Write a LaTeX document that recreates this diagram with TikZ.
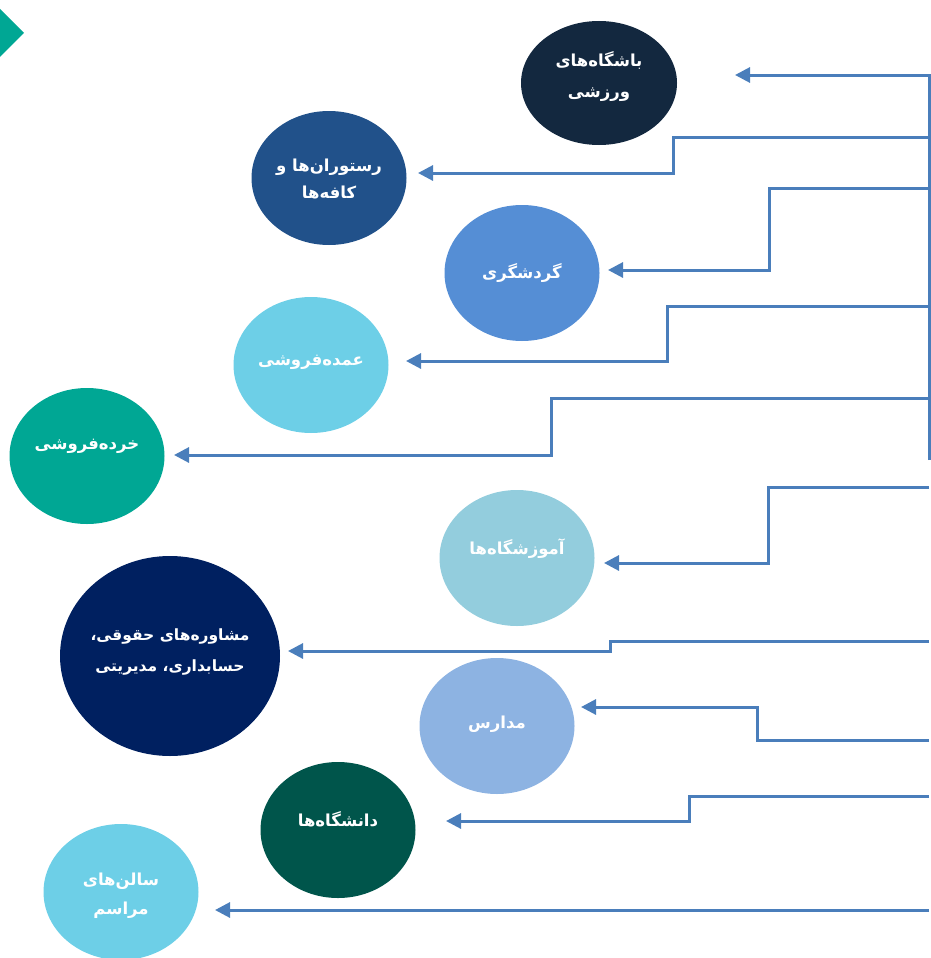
\documentclass[tikz,border=0pt]{standalone}
\usepackage{fontspec}
\usetikzlibrary{shapes.geometric,arrows.meta}
\TeXXeTstate=1
\newfontfamily\fa[Script=Arabic]{DejaVu Sans}
\definecolor{cA}{HTML}{13283F}
\definecolor{cB}{HTML}{21518A}
\definecolor{cC}{HTML}{558ED5}
\definecolor{cD}{HTML}{6DCFE7}
\definecolor{cE}{HTML}{00A794}
\definecolor{cF}{HTML}{93CDDD}
\definecolor{cG}{HTML}{002060}
\definecolor{cH}{HTML}{8DB3E2}
\definecolor{cI}{HTML}{00554B}
\definecolor{cLine}{HTML}{4A7EBB}
\begin{document}
\begin{tikzpicture}[x=1pt,y=-1pt,
  bub/.style={ellipse,inner sep=0pt,minimum width=155pt,minimum height=136pt},
  txt/.style={inner sep=0pt,text=white,align=center,font=\fa\bfseries\fontsize{16.5}{31}\selectfont},
  conn/.style={draw=cLine,line width=3pt,line join=miter,-{Triangle[length=15pt,width=15pt]}}]
\useasboundingbox (0,0) rectangle (930,958);
% corner marker
\fill[cE] (-24,33) -- (0,9) -- (24,33) -- (0,57) -- cycle;
% bubbles
\node[bub,fill=cA,minimum width=156pt,minimum height=124pt] (n1) at (599,83) {};
\node[bub,fill=cB,minimum height=134pt] (n2) at (329,178) {};
\node[bub,fill=cC] (n3) at (522,273) {};
\node[bub,fill=cD] (n4) at (311,365) {};
\node[bub,fill=cE] (n5) at (87,456) {};
\node[bub,fill=cF] (n6) at (517,558) {};
\node[bub,fill=cG,minimum width=220pt,minimum height=200pt] (n7) at (170,656) {};
\node[bub,fill=cH] (n8) at (497,726) {};
\node[bub,fill=cI] (n9) at (338,830) {};
\node[bub,fill=cD] (n10) at (121,892) {};
% texts
\node[txt,yshift=6pt] (n1t) at (n1) {\beginR باشگاه‌های\endR\\\beginR ورزشی\endR};
\node[txt,yshift=-1pt] (n2t) at (n2) {\beginR رستوران‌ها و\endR\\[-3pt]\beginR کافه‌ها\endR};
\node[txt] (n3t) at (n3) {\beginR گردشگری\endR};
\node[txt,yshift=3pt] (n4t) at (n4) {\beginR عمده‌فروشی\endR};
\node[txt,yshift=10pt] (n5t) at (n5) {\beginR خرده‌فروشی\endR};
\node[txt,yshift=9pt] (n6t) at (n6) {\beginR آموزشگاه‌ها\endR};
\node[txt,yshift=4pt,font=\fa\bfseries\fontsize{15.5}{31}\selectfont] (n7t) at (n7) {\beginR مشاوره‌های حقوقی،\endR\\\beginR حسابداری، مدیریتی\endR};
\node[txt,yshift=2pt] (n8t) at (n8) {\beginR مدارس\endR};
\node[txt,yshift=11pt] (n9t) at (n9) {\beginR دانشگاه‌ها\endR};
\node[txt,yshift=-4pt] (n10t) at (n10) {\beginR سالن‌های\endR\\[-2pt]\beginR مراسم\endR};
% connector points
\coordinate (t0) at (929,460);
\coordinate (s1) at (929,75);   \coordinate (e1) at (735,75);
\coordinate (s2) at (929,137);  \coordinate (b2) at (673,173); \coordinate (e2) at (418,173);
\coordinate (s3) at (929,188);  \coordinate (b3) at (769,270); \coordinate (e3) at (608,270);
\coordinate (s4) at (929,306);  \coordinate (b4) at (667,361); \coordinate (e4) at (406,361);
\coordinate (s5) at (929,398);  \coordinate (b5) at (551,455); \coordinate (e5) at (174,455);
\coordinate (s6) at (929,487);  \coordinate (b6) at (768,563); \coordinate (e6) at (604,563);
\coordinate (s7) at (929,641);  \coordinate (b7) at (610,651); \coordinate (e7) at (288,651);
\coordinate (s8) at (929,740);  \coordinate (b8) at (757,707); \coordinate (e8) at (581,707);
\coordinate (s9) at (929,796);  \coordinate (b9) at (689,821); \coordinate (e9) at (446,821);
\coordinate (s10) at (929,910); \coordinate (e10) at (215,910);
% connectors
\draw[conn] (t0) -- (s1) -- (e1);
\draw[conn] (s2) -| (b2) -- (e2);
\draw[conn] (s3) -| (b3) -- (e3);
\draw[conn] (s4) -| (b4) -- (e4);
\draw[conn] (s5) -| (b5) -- (e5);
\draw[conn] (s6) -| (b6) -- (e6);
\draw[conn] (s7) -| (b7) -- (e7);
\draw[conn] (s8) -| (b8) -- (e8);
\draw[conn] (s9) -| (b9) -- (e9);
\draw[conn] (s10) -- (e10);
\end{tikzpicture}
\end{document}
